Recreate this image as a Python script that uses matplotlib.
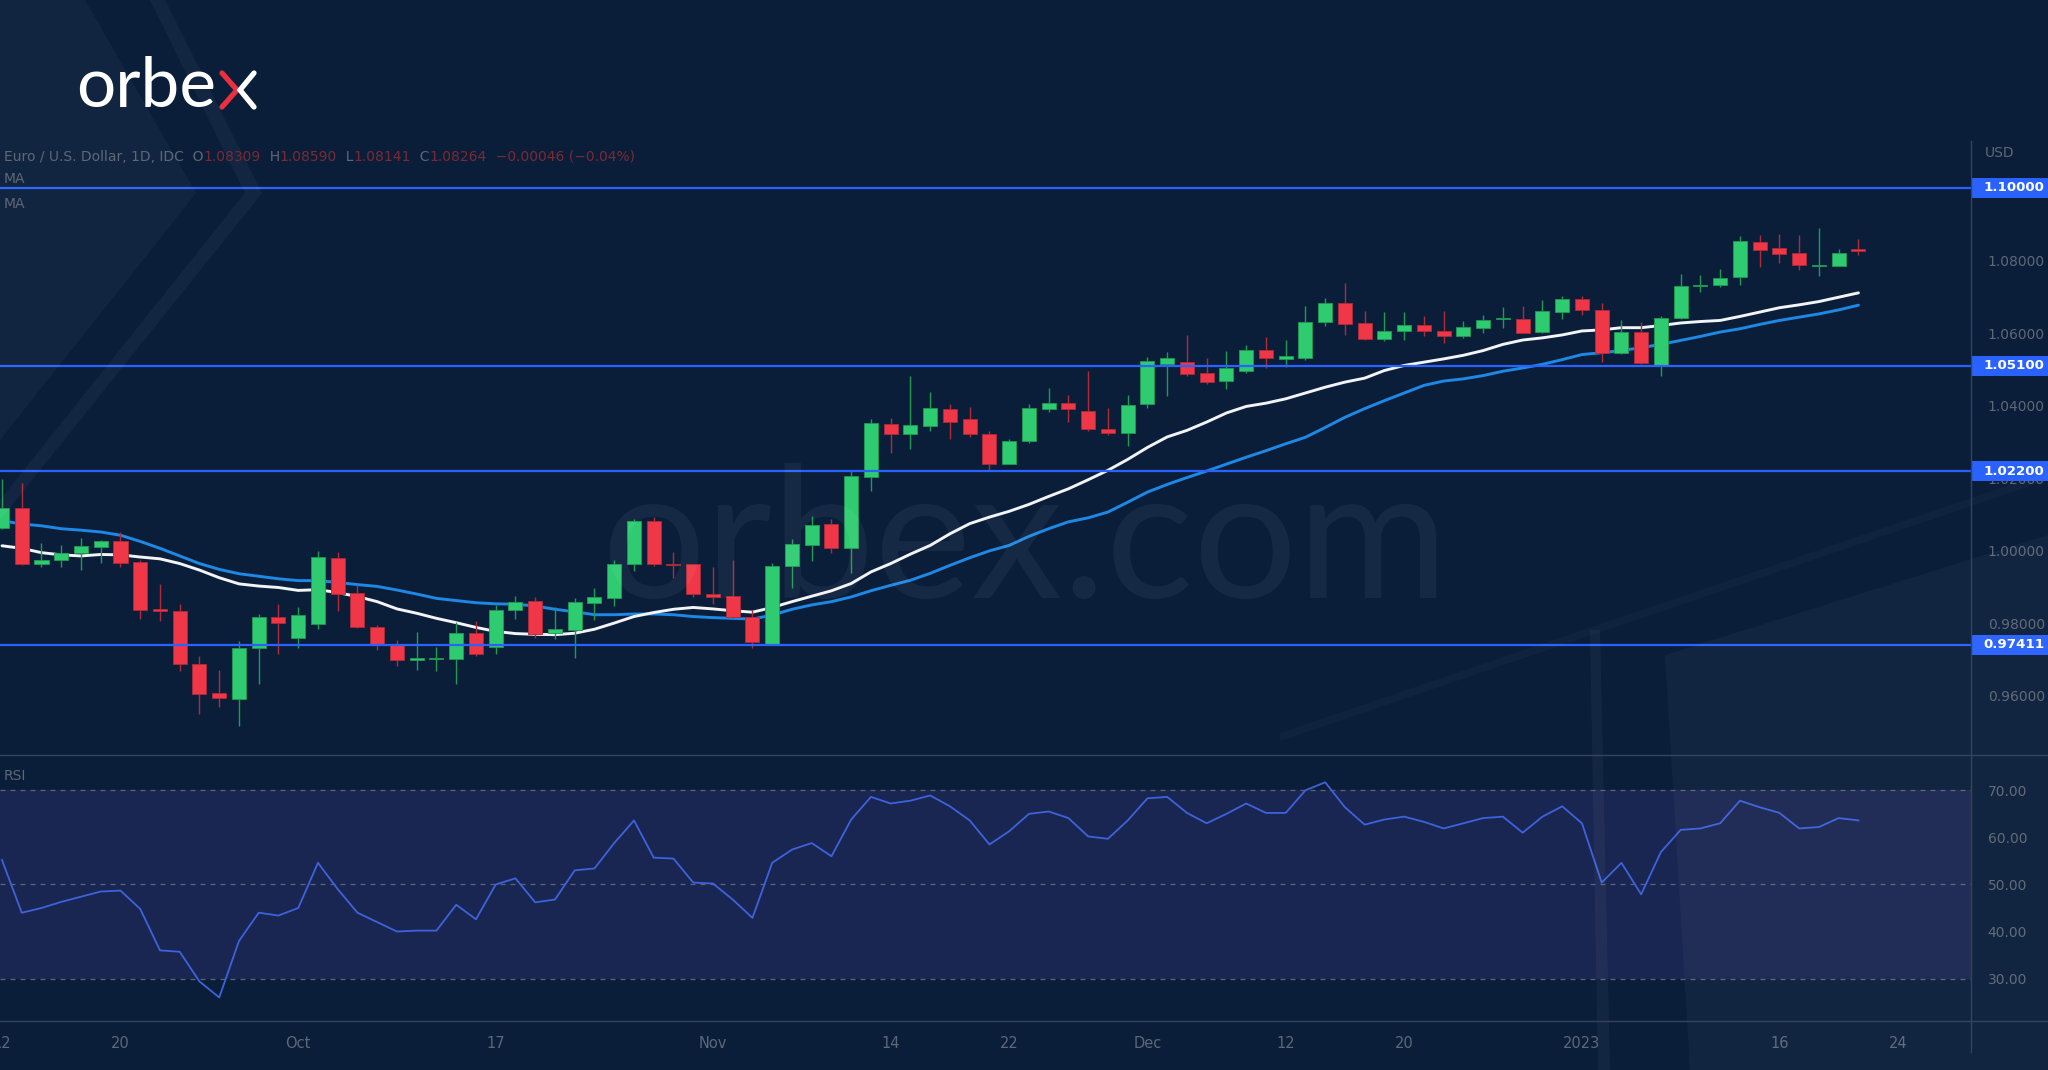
import matplotlib
matplotlib.use('Agg')
import matplotlib.pyplot as plt
import matplotlib.transforms as mtransforms
from matplotlib.patches import Polygon, Rectangle
from matplotlib.lines import Line2D
from matplotlib.text import Annotation
import numpy as np

# ---------------- data ----------------
opens = [1.0062, 1.0118, 0.9963, 0.9976, 0.9994, 1.0010, 1.0026, 0.9969, 0.9839, 0.9834,
         0.9687, 0.9608, 0.9593, 0.9732, 0.9817, 0.9761, 0.9798, 0.9981, 0.9883, 0.9791,
         0.9741, 0.9700, 0.9702, 0.9702, 0.9774, 0.9736, 0.9838, 0.9862, 0.9774, 0.9782,
         0.9857, 0.9871, 0.9963, 1.0081, 0.9963, 0.9963, 0.9881, 0.9875, 0.9819, 0.9744,
         0.9958, 1.0017, 1.0073, 1.0007, 1.0204, 1.0350, 1.0323, 1.0344, 1.0391, 1.0363,
         1.0321, 1.0240, 1.0302, 1.0392, 1.0407, 1.0386, 1.0336, 1.0326, 1.0404, 1.0516,
         1.0520, 1.0489, 1.0467, 1.0495, 1.0554, 1.0528, 1.0532, 1.0630, 1.0682, 1.0628,
         1.0583, 1.0605, 1.0623, 1.0606, 1.0593, 1.0614, 1.0638, 1.0639, 1.0602, 1.0659,
         1.0693, 1.0665, 1.0544, 1.0604, 1.0511, 1.0642, 1.0730, 1.0733, 1.0756, 1.0850,
         1.0834, 1.0820, 1.0785, 1.0786, 1.0831]
highs = [1.0197, 1.0188, 1.0023, 1.0016, 1.0035, 1.0030, 1.0051, 0.9975, 0.9908, 0.9853,
         0.9711, 0.9671, 0.9752, 0.9825, 0.9854, 0.9844, 1.0000, 0.9996, 0.9907, 0.9797,
         0.9753, 0.9775, 0.9735, 0.9804, 0.9807, 0.9852, 0.9876, 0.9873, 0.9846, 0.9869,
         0.9898, 0.9976, 1.0087, 1.0093, 0.9998, 0.9965, 0.9955, 0.9976, 0.9837, 0.9967,
         1.0033, 1.0095, 1.0089, 1.0219, 1.0363, 1.0365, 1.0482, 1.0439, 1.0405, 1.0396,
         1.0331, 1.0309, 1.0405, 1.0449, 1.0430, 1.0496, 1.0394, 1.0429, 1.0535, 1.0547,
         1.0596, 1.0532, 1.0551, 1.0566, 1.0589, 1.0580, 1.0676, 1.0696, 1.0737, 1.0662,
         1.0658, 1.0659, 1.0646, 1.0661, 1.0634, 1.0651, 1.0671, 1.0676, 1.0692, 1.0703,
         1.0701, 1.0684, 1.0637, 1.0632, 1.0648, 1.0762, 1.0761, 1.0777, 1.0868, 1.0871,
         1.0874, 1.0870, 1.0889, 1.0831, 1.0859]
lows = [1.0060, 0.9962, 0.9955, 0.9955, 0.9946, 0.9967, 0.9955, 0.9812, 0.9808, 0.9668,
        0.9551, 0.9569, 0.9516, 0.9634, 0.9715, 0.9733, 0.9785, 0.9835, 0.9787, 0.9727,
        0.9682, 0.9671, 0.9668, 0.9633, 0.9709, 0.9715, 0.9813, 0.9759, 0.9757, 0.9704,
        0.9809, 0.9849, 0.9944, 0.9957, 0.9926, 0.9873, 0.9854, 0.9814, 0.9731, 0.9741,
        0.9898, 0.9972, 0.9994, 0.9938, 1.0165, 1.0271, 1.0280, 1.0330, 1.0307, 1.0313,
        1.0223, 1.0238, 1.0298, 1.0382, 1.0354, 1.0330, 1.0320, 1.0289, 1.0395, 1.0428,
        1.0481, 1.0460, 1.0446, 1.0490, 1.0504, 1.0506, 1.0527, 1.0621, 1.0595, 1.0580,
        1.0578, 1.0580, 1.0592, 1.0573, 1.0587, 1.0600, 1.0614, 1.0599, 1.0601, 1.0640,
        1.0651, 1.0520, 1.0543, 1.0516, 1.0483, 1.0639, 1.0713, 1.0727, 1.0733, 1.0782,
        1.0793, 1.0775, 1.0758, 1.0784, 1.0814]
closes = [1.0118, 0.9963, 0.9976, 0.9995, 1.0014, 1.0026, 0.9967, 0.9837, 0.9833, 0.9688,
          0.9605, 0.9594, 0.9732, 0.9817, 0.9800, 0.9822, 0.9984, 0.9880, 0.9791, 0.9740,
          0.9700, 0.9703, 0.9704, 0.9774, 0.9716, 0.9838, 0.9859, 0.9770, 0.9784, 0.9859,
          0.9872, 0.9965, 1.0081, 0.9963, 0.9961, 0.9880, 0.9874, 0.9819, 0.9748, 0.9958,
          1.0019, 1.0070, 1.0007, 1.0206, 1.0353, 1.0323, 1.0348, 1.0393, 1.0356, 1.0321,
          1.0240, 1.0303, 1.0393, 1.0407, 1.0392, 1.0337, 1.0326, 1.0403, 1.0522, 1.0532,
          1.0488, 1.0464, 1.0505, 1.0554, 1.0531, 1.0537, 1.0632, 1.0682, 1.0626, 1.0583,
          1.0606, 1.0623, 1.0605, 1.0592, 1.0617, 1.0637, 1.0643, 1.0599, 1.0661, 1.0693,
          1.0664, 1.0544, 1.0604, 1.0518, 1.0641, 1.0729, 1.0732, 1.0752, 1.0853, 1.0830,
          1.0818, 1.0787, 1.0788, 1.0821, 1.0826]
ma_fast = [1.0014, 1.0007, 0.9995, 0.9989, 0.9986, 0.9990, 0.9989, 0.9983, 0.9978, 0.9965,
           0.9947, 0.9926, 0.9909, 0.9903, 0.9899, 0.9891, 0.9893, 0.9885, 0.9874, 0.9860,
           0.9840, 0.9828, 0.9814, 0.9802, 0.9789, 0.9778, 0.9772, 0.9770, 0.9769, 0.9773,
           0.9784, 0.9801, 0.9819, 0.9830, 0.9839, 0.9844, 0.9840, 0.9835, 0.9831, 0.9844,
           0.9860, 0.9875, 0.9890, 0.9910, 0.9942, 0.9965, 0.9991, 1.0015, 1.0047, 1.0075,
           1.0093, 1.0109, 1.0128, 1.0150, 1.0171, 1.0196, 1.0222, 1.0252, 1.0285, 1.0314,
           1.0332, 1.0355, 1.0380, 1.0398, 1.0407, 1.0419, 1.0435, 1.0451, 1.0465, 1.0476,
           1.0497, 1.0511, 1.0520, 1.0529, 1.0539, 1.0552, 1.0569, 1.0581, 1.0587, 1.0595,
           1.0606, 1.0609, 1.0615, 1.0615, 1.0621, 1.0628, 1.0632, 1.0635, 1.0646, 1.0658,
           1.0670, 1.0678, 1.0687, 1.0699, 1.0711]
ma_slow = [1.0083, 1.0074, 1.0069, 1.0061, 1.0057, 1.0052, 1.0043, 1.0026, 1.0007, 0.9986,
           0.9965, 0.9949, 0.9937, 0.9930, 0.9923, 0.9918, 0.9918, 0.9913, 0.9907, 0.9902,
           0.9892, 0.9881, 0.9869, 0.9863, 0.9857, 0.9854, 0.9853, 0.9848, 0.9839, 0.9832,
           0.9824, 0.9824, 0.9826, 0.9826, 0.9824, 0.9819, 0.9816, 0.9814, 0.9812, 0.9823,
           0.9839, 0.9851, 0.9860, 0.9873, 0.9890, 0.9905, 0.9919, 0.9938, 0.9960, 0.9981,
           1.0000, 1.0015, 1.0040, 1.0061, 1.0080, 1.0091, 1.0107, 1.0134, 1.0162, 1.0183,
           1.0202, 1.0220, 1.0239, 1.0258, 1.0276, 1.0295, 1.0313, 1.0340, 1.0368, 1.0392,
           1.0414, 1.0435, 1.0456, 1.0468, 1.0474, 1.0483, 1.0495, 1.0504, 1.0514, 1.0527,
           1.0541, 1.0546, 1.0552, 1.0560, 1.0569, 1.0580, 1.0591, 1.0603, 1.0612, 1.0624,
           1.0635, 1.0644, 1.0653, 1.0664, 1.0677]
rsi = [55.2, 44.0, 45.0, 46.3, 47.4, 48.5, 48.7, 44.8, 36.0, 35.7,
       29.4, 26.0, 38.0, 44.0, 43.4, 45.0, 54.6, 49.0, 44.0, 42.0,
       40.0, 40.2, 40.2, 45.7, 42.6, 50.0, 51.3, 46.2, 46.8, 53.0,
       53.4, 58.8, 63.6, 55.7, 55.5, 50.4, 50.2, 46.8, 42.9, 54.6,
       57.4, 58.8, 56.0, 63.8, 68.6, 67.2, 67.8, 68.9, 66.6, 63.6,
       58.5, 61.3, 65.0, 65.5, 64.1, 60.2, 59.7, 63.6, 68.3, 68.6,
       65.2, 63.0, 65.0, 67.2, 65.2, 65.2, 70.0, 71.7, 66.4, 62.7,
       63.8, 64.4, 63.3, 61.9, 63.0, 64.1, 64.4, 61.0, 64.4, 66.6,
       63.0, 50.4, 54.6, 47.9, 56.9, 61.6, 61.9, 63.0, 67.8, 66.4,
       65.2, 61.9, 62.2, 64.1, 63.6]
levels = [1.10000, 1.05100, 1.02200, 0.97411]
price_ticks = [0.96, 0.98, 1.00, 1.02, 1.04, 1.06, 1.08]
rsi_ticks = [30, 40, 50, 60, 70]
date_tick_pos = [0, 6, 15, 25, 36, 45, 51, 58, 65, 71, 80, 90, 96]
date_tick_lbl = ['12', '20', 'Oct', '17', 'Nov', '14', '22', 'Dec', '12', '20', '2023', '16', '24']
header_parts = [("Euro / U.S. Dollar, 1D, IDC  O", 'g'), ("1.08309", 'r'), ("  H", 'g'), ("1.08590", 'r'),
                ("  L", 'g'), ("1.08141", 'r'), ("  C", 'g'), ("1.08264", 'r'),
                ("  \u22120.00046 (\u22120.04%)", 'r')]

# ---------------- style ----------------
W, H, DPI = 2048, 1070, 100
BG = '#0a1e3a'
GREEN, GREEN_W = '#2ecb70', '#1f9a52'
RED, RED_W = '#ef3747', '#b02a38'
LEVEL = '#2962ff'
GRID_LINE = '#36445a'
TXT = '#5e6776'
HDR_RED = '#7a2a33'

plt.rcParams['font.family'] = ['DejaVu Sans']
fig = plt.figure(figsize=(W / DPI, H / DPI), dpi=DPI, facecolor=BG)


def fx(x):
    return x / W


def fy(y):
    return 1 - y / H


def fpoly(pts, **kw):
    fig.patches.append(Polygon([(fx(a), fy(b)) for a, b in pts], closed=True,
                               transform=fig.transFigure, **kw))


# decorative faint shapes
fpoly([(0, 0), (85, 0), (196, 193), (0, 440)], fc='white', alpha=0.035, ec='none', zorder=0)
fpoly([(150, 0), (165, 0), (262, 193), (0, 520), (0, 500), (245, 193)], fc='white', alpha=0.04, ec='none', zorder=0)
fpoly([(1665, 655), (2048, 535), (2048, 1070), (1690, 1070)], fc='white', alpha=0.03, ec='none', zorder=0)
fpoly([(1590, 630), (1600, 630), (1610, 1070), (1598, 1070)], fc='white', alpha=0.04, ec='none', zorder=0)
fpoly([(1280, 733), (2048, 472), (2048, 480), (1280, 741)], fc='white', alpha=0.025, ec='none', zorder=0)

# watermark
fig.text(fx(1025), fy(598), 'orbex.com', ha='center', va='baseline', fontsize=132,
         family='Lato', color='white', alpha=0.05, zorder=0)

# axes
ax = fig.add_axes([0, fy(755), fx(1971), fy(141) - fy(755)])
ax2 = fig.add_axes([0, fy(1021), fx(1971), fy(755) - fy(1021)], sharex=ax)
for a in (ax, ax2):
    a.set_facecolor('none')
    for s in a.spines.values():
        s.set_visible(False)
ax.set_xlim(-0.101, 99.7)
ax.set_ylim(0.94374, 1.11295)
ax2.set_ylim(21.0, 77.5)

# candles
idx = np.arange(len(opens))
o = np.array(opens); c = np.array(closes); hi = np.array(highs); lo = np.array(lows)
up = c >= o
body_col = np.where(up, GREEN, RED)
wick_col = np.where(up, GREEN_W, RED_W)
ax.vlines(idx, lo, hi, colors=wick_col, lw=1.0, zorder=3)
body_h = np.maximum(np.abs(c - o), 0.00045)
body_b = np.minimum(o, c) - (body_h - np.abs(c - o)) / 2
ax.bar(idx, body_h, 0.71, bottom=body_b, color=body_col, edgecolor=wick_col, lw=0.6, zorder=4)

# moving averages
ax.plot(idx, ma_slow, color='#1e88e5', lw=2.1, zorder=2, solid_capstyle='round')
ax.plot(idx, ma_fast, color='#f2f4f7', lw=2.1, zorder=2, solid_capstyle='round')

# horizontal levels with labels
btrans = mtransforms.blended_transform_factory(ax.transAxes, ax.transData)
box_w = 77 / 1971
box_h = 20 / 3629
for lv in levels:
    ax.axhline(lv, color=LEVEL, lw=1.6, zorder=5)
    ax.add_patch(Rectangle((1.0, lv - box_h / 2), box_w, box_h, transform=btrans,
                           fc=LEVEL, ec='none', clip_on=False, zorder=6))
    ax.text(1.0 + 12 / 1971, lv, f'{lv:.5f}', transform=btrans, ha='left', va='center',
            color='white', fontsize=9.6, fontweight='bold', clip_on=False, zorder=7)

# price tick labels
ax.yaxis.tick_right()
ax.set_yticks(price_ticks)
ax.set_yticklabels([f'{v:.5f}' for v in price_ticks])
ax.tick_params(axis='y', length=0, pad=12, labelsize=10, labelcolor=TXT)
ax.tick_params(axis='x', bottom=False, labelbottom=False)

# RSI panel
ax2.axhspan(30, 70, color='#1a2652', zorder=0, lw=0)
for v in (70, 50, 30):
    ax2.axhline(v, color='#5b6478', lw=0.9, ls=(0, (4, 4)), zorder=1)
ax2.plot(idx, rsi, color='#3d62db', lw=1.3, zorder=3)
ax2.yaxis.tick_right()
ax2.set_yticks(rsi_ticks)
ax2.set_yticklabels([f'{v:.2f}' for v in rsi_ticks])
ax2.tick_params(axis='y', length=0, pad=12, labelsize=10, labelcolor=TXT)
ax2.set_xticks(date_tick_pos)
ax2.set_xticklabels(date_tick_lbl)
ax2.tick_params(axis='x', length=0, pad=11, labelsize=10.5, labelcolor=TXT)

# separators
fig.add_artist(Line2D([0, 1], [fy(755), fy(755)], transform=fig.transFigure, color=GRID_LINE, lw=1.0))
fig.add_artist(Line2D([0, 1], [fy(1021), fy(1021)], transform=fig.transFigure, color=GRID_LINE, lw=1.0))
fig.add_artist(Line2D([fx(1971), fx(1971)], [fy(141), fy(1052)], transform=fig.transFigure, color=GRID_LINE, lw=1.0))

# texts
fig.text(fx(1985), fy(153), 'USD', ha='left', va='center', fontsize=10, color=TXT)
fig.text(fx(4), fy(776), 'RSI', ha='left', va='center', fontsize=10, color=TXT)
fig.text(fx(4), fy(179), 'MA', ha='left', va='center', fontsize=10, color=TXT)
fig.text(fx(4), fy(204), 'MA', ha='left', va='center', fontsize=10, color=TXT)

anchor = None
for t, kind in header_parts:
    col = TXT if kind == 'g' else HDR_RED
    if anchor is None:
        anchor = fig.text(fx(4), fy(157), t, ha='left', va='center', fontsize=10, color=col)
    else:
        anchor = fig.add_artist(Annotation(t, xy=(1, 0.5), xycoords=anchor, ha='left', va='center',
                                           fontsize=10, color=col))

# logo
fig.text(fx(76), fy(107), 'orbe', ha='left', va='baseline', fontsize=50, family='Lato', color='white')
fig.add_artist(Line2D([fx(222), fx(237), fx(222)], [fy(73), fy(90), fy(107)], transform=fig.transFigure,
                      color='#e8303f', lw=3.8, solid_capstyle='round', solid_joinstyle='miter'))
fig.add_artist(Line2D([fx(254), fx(240), fx(254)], [fy(73), fy(90), fy(107)], transform=fig.transFigure,
                      color='white', lw=3.8, solid_capstyle='round', solid_joinstyle='miter'))

fig.savefig('out.png', dpi=DPI, facecolor=BG)
